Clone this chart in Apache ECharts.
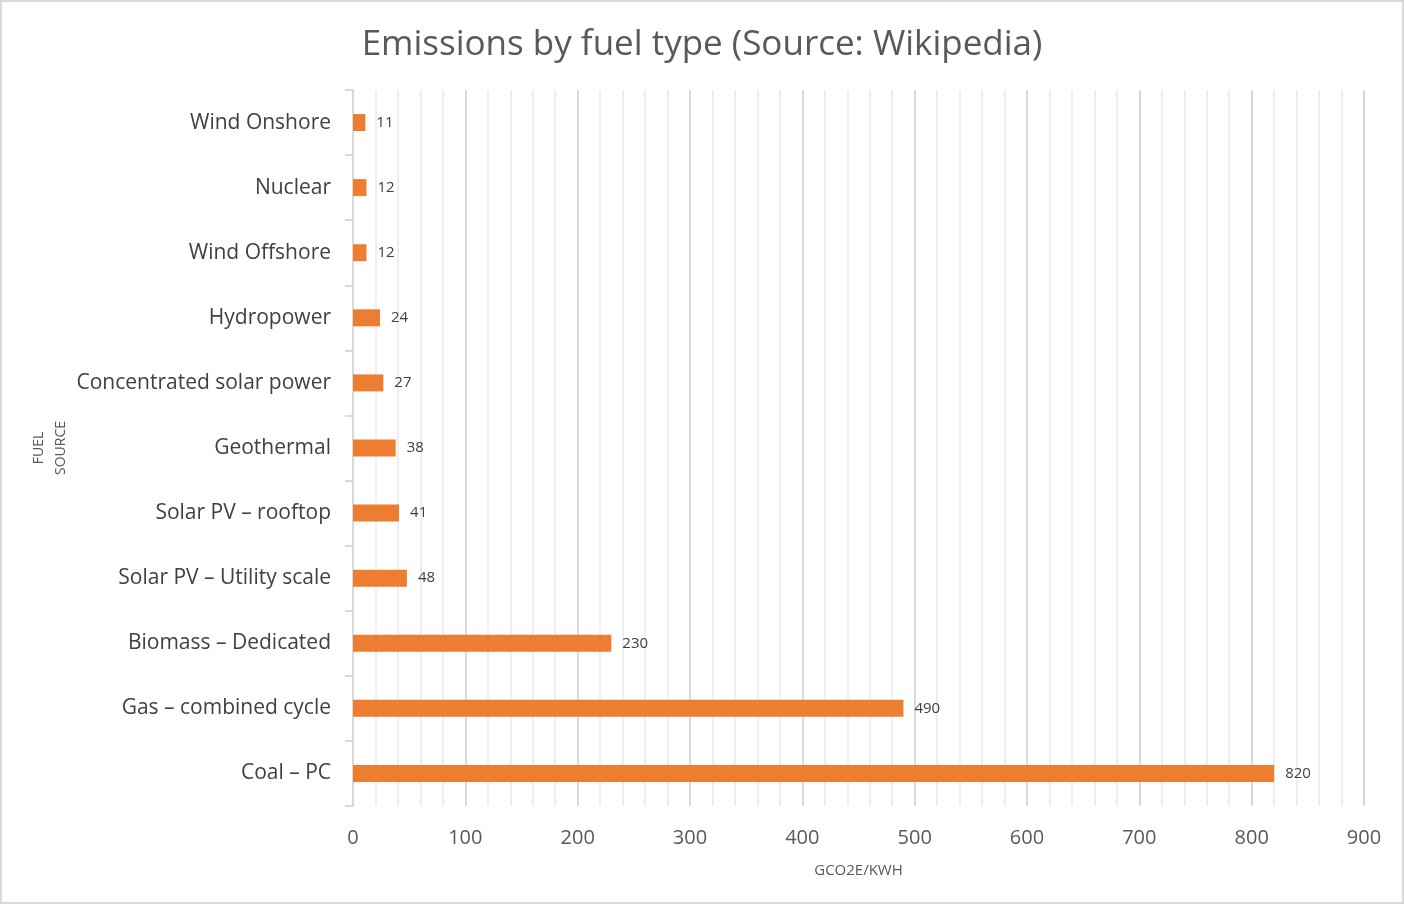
<!DOCTYPE html>
<html>
<head>
<meta charset="utf-8">
<title>Emissions by fuel type</title>
<script src="https://cdn.jsdelivr.net/npm/echarts@6/dist/echarts.min.js"></script>
<style>
  html, body { margin: 0; padding: 0; background: #fff; }
  #chart { width: 1404px; height: 904px; box-sizing: border-box; border: 2px solid #d9d9d9; }
</style>
</head>
<body>
<div id="chart"></div>
<script>
// categories listed top to bottom as shown
var fuelSources = [
    "Wind Onshore",
    "Nuclear",
    "Wind Offshore",
    "Hydropower",
    "Concentrated solar power",
    "Geothermal",
    "Solar PV \u2013 rooftop",
    "Solar PV \u2013 Utility scale",
    "Biomass \u2013 Dedicated",
    "Gas \u2013 combined cycle",
    "Coal \u2013 PC"
];
var emissions = [11, 12, 12, 24, 27, 38, 41, 48, 230, 490, 820];

var FONT = "'Open Sans', Lato, sans-serif";

var chart = echarts.init(document.getElementById("chart"));

var option = {
    backgroundColor: "#fff",
    animation: false,
    title: {
        text: "Emissions by fuel type (Source: Wikipedia)",
        left: "center",
        top: 21,
        textStyle: {
            fontFamily: FONT,
            fontSize: 35,
            fontWeight: "normal",
            color: "#595959"
        }
    },
    grid: {
        left: 351,
        right: 38,
        top: 88,
        bottom: 96
    },
    xAxis: {
        type: "value",
        min: 0,
        max: 900,
        interval: 100,
        name: "GCO2E/KWH",
        nameLocation: "middle",
        nameGap: 57,
        nameTextStyle: {
            fontFamily: FONT,
            fontSize: 15,
            color: "#595959"
        },
        axisLine: {show: false},
        axisTick: {show: false},
        axisLabel: {
            fontFamily: FONT,
            fontSize: 20,
            color: "#595959",
            margin: 22
        },
        splitLine: {
            show: true,
            lineStyle: {color: "#d9d9d9", width: 2}
        },
        minorTick: {show: false, splitNumber: 5},
        minorSplitLine: {
            show: true,
            lineStyle: {color: "#eeeeee", width: 2}
        }
    },
    yAxis: {
        type: "category",
        inverse: true,
        data: fuelSources,
        name: "FUEL\nSOURCE",
        nameLocation: "middle",
        nameRotate: 90,
        nameGap: 281,
        nameMoveOverlap: false,
        nameTextStyle: {
            fontFamily: FONT,
            fontSize: 14,
            color: "#595959",
            lineHeight: 22
        },
        axisLine: {
            show: true,
            lineStyle: {color: "#d9d9d9", width: 2}
        },
        axisTick: {
            show: true,
            length: 8,
            lineStyle: {color: "#d9d9d9", width: 2}
        },
        axisLabel: {
            fontFamily: FONT,
            fontSize: 21,
            color: "#404040",
            margin: 22
        }
    },
    series: [{
        name: "Emissions",
        type: "bar",
        data: emissions,
        barWidth: 17,
        itemStyle: {color: "#ed7d31"},
        label: {
            show: true,
            position: "right",
            distance: 11,
            fontFamily: FONT,
            fontSize: 15,
            color: "#404040"
        }
    }]
};

chart.setOption(option);
</script>
</body>
</html>
